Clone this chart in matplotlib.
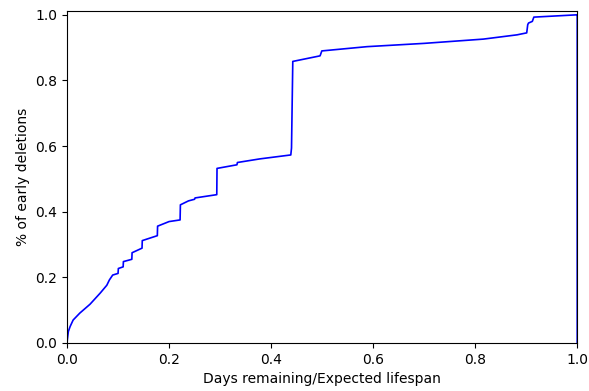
import matplotlib
matplotlib.use("Agg")
import matplotlib.pyplot as plt

# cumulative fraction of early deletions
frac_lifespan = [0.0, 0.0006, 0.0026, 0.006, 0.012, 0.025, 0.045, 0.065, 0.078, 0.083,
                 0.0895, 0.100, 0.1006, 0.110, 0.1105, 0.127, 0.1275, 0.147, 0.1475,
                 0.177, 0.1775, 0.192, 0.200, 0.2216, 0.2222, 0.238, 0.250, 0.251,
                 0.2935, 0.294, 0.333, 0.334, 0.378, 0.4386, 0.440, 0.4425, 0.496,
                 0.4994, 0.588, 0.700, 0.816, 0.882, 0.901, 0.903, 0.9046, 0.912,
                 0.915, 0.9994, 1.0, 1.0]
frac_deleted = [0.0, 0.01, 0.035, 0.05, 0.070, 0.091, 0.118, 0.152, 0.176, 0.192,
                0.207, 0.212, 0.227, 0.232, 0.248, 0.255, 0.275, 0.289, 0.312,
                0.327, 0.356, 0.365, 0.370, 0.375, 0.421, 0.433, 0.438, 0.442,
                0.452, 0.532, 0.543, 0.550, 0.561, 0.573, 0.594, 0.858, 0.875,
                0.890, 0.903, 0.913, 0.926, 0.939, 0.945, 0.970, 0.975, 0.980,
                0.993, 1.0, 1.0, 0.0]

fig = plt.figure(figsize=(5.89, 3.91), dpi=100)
ax = fig.add_axes([0.1138, 0.1228, 0.8662, 0.8502])
ax.plot(frac_lifespan, frac_deleted, color="b", linewidth=1.2)
ax.set_xlim(0, 1)
ax.set_ylim(0, 1.013)
ax.set_xlabel("Days remaining/Expected lifespan")
ax.set_ylabel("% of early deletions")
fig.savefig("out.png", dpi=100)
